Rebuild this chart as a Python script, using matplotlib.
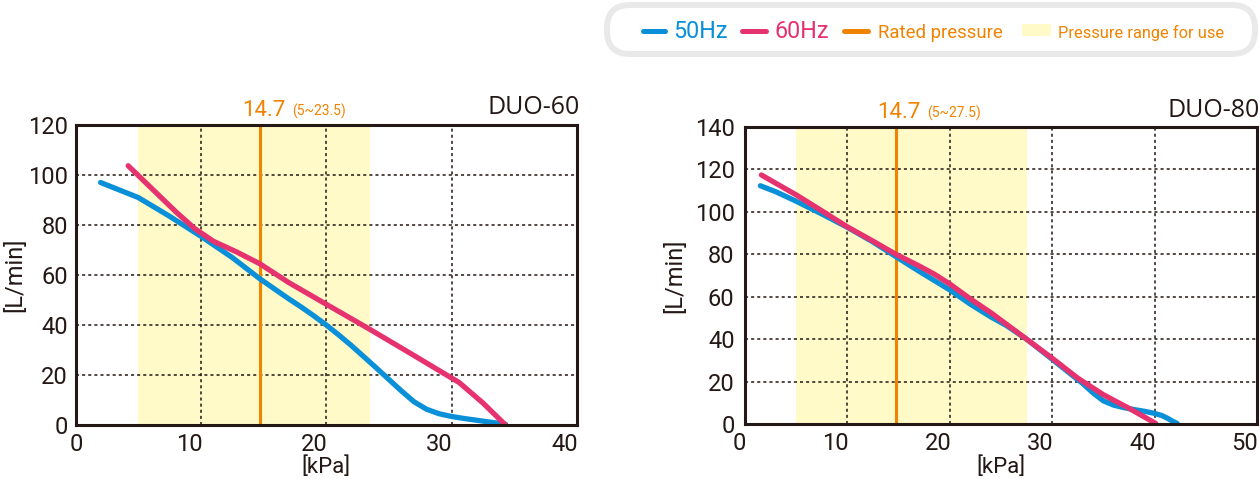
import numpy as np
import matplotlib
matplotlib.use("Agg")
import matplotlib.pyplot as plt
from matplotlib import font_manager
from matplotlib.patches import FancyBboxPatch, Rectangle
import matplotlib.transforms as mtransforms

# ---------------- data ----------------
# DUO-60
duo60_50hz_x = [2.0, 5.0, 7.5, 10.0, 12.5, 14.7, 17.0, 18.0, 19.0, 20.0, 21.0, 22.0, 23.0, 24.0, 25.0,
                26.0, 27.0, 28.0, 29.0, 30.0, 31.0, 32.0, 33.0, 34.3]
duo60_50hz_y = [97.0, 91.0, 83.5, 75.5, 67.0, 58.5, 50.5, 47.2, 43.7, 40.0, 36.0, 31.8, 27.3, 22.8, 18.2,
                13.6, 9.3, 6.3, 4.5, 3.4, 2.6, 1.9, 1.2, 0.3]
duo60_60hz_x = [4.2, 6.0, 8.0, 9.5, 11.0, 12.9, 14.7, 17.0, 20.0, 23.5, 27.0, 30.0, 30.6, 32.5, 34.3]
duo60_60hz_y = [103.7, 95.0, 85.3, 78.6, 73.5, 69.1, 64.5, 57.0, 48.3, 38.2, 27.8, 18.8, 17.0, 8.8, 0.0]
# DUO-80
duo80_50hz_x = [1.5, 3.0, 5.0, 7.5, 10.0, 12.5, 14.7, 17.0, 20.0, 22.0, 24.0, 25.5, 27.5, 30.0, 32.0,
                33.0, 34.0, 35.0, 36.0, 37.0, 38.0, 39.0, 40.0, 40.7, 41.3, 41.8, 42.2]
duo80_50hz_y = [112.3, 109.5, 105.0, 99.0, 92.7, 85.8, 79.0, 72.0, 63.2, 56.5, 50.5, 46.5, 40.0, 30.5, 22.8,
                19.0, 14.6, 10.9, 8.9, 7.7, 6.8, 6.0, 5.0, 4.0, 2.6, 1.2, 0.3]
duo80_60hz_x = [1.6, 3.0, 5.0, 7.5, 10.0, 12.5, 14.7, 17.0, 18.5, 20.0, 22.0, 24.0, 27.5, 30.0, 32.5,
                35.0, 37.5, 40.1]
duo80_60hz_y = [117.4, 113.5, 108.0, 100.5, 92.9, 86.2, 80.1, 74.5, 70.6, 66.0, 59.0, 52.5, 40.0, 31.0, 21.6,
                13.8, 7.4, 0.3]

models = ["DUO-60", "DUO-80"]
rated_pressure = [14.7, 14.7]
use_range = [(5.0, 23.5), (5.0, 27.5)]
range_notes = ["(5~23.5)", "(5~27.5)"]
x_max = [40, 50]
y_max = [120, 140]
x_step = 10
y_step = 20
legend_labels = ["50Hz", "60Hz", "Rated pressure", "Pressure range for use"]
x_label = "[kPa]"
y_label = "[L/min]"

# ---------------- style ----------------
BLUE = "#0a90d8"
PINK = "#e6336f"
ORANGE = "#f08300"
YELLOW = "#fffac7"
DARK = "#231815"

avail = {f.name for f in font_manager.fontManager.ttflist}
NARROW = next((f for f in ["Roboto", "Open Sans"] if f in avail), "DejaVu Sans")
WIDE = "Open Sans" if "Open Sans" in avail else "DejaVu Sans"
plt.rcParams["font.family"] = [NARROW, "DejaVu Sans"]

W, H = 1260, 479
fig = plt.figure(figsize=(W / 100, H / 100), dpi=100)


def px_rect(x0, y0, x1, y1):
    return [x0 / W, (H - y1) / H, (x1 - x0) / W, (y1 - y0) / H]


rects = [px_rect(75.5, 125, 577, 425), px_rect(745, 127, 1257, 424)]
series = [((duo60_50hz_x, duo60_50hz_y), (duo60_60hz_x, duo60_60hz_y)),
          ((duo80_50hz_x, duo80_50hz_y), (duo80_60hz_x, duo80_60hz_y))]
ylab_x = [-0.1206, -0.137]
xlab_y = [-0.103, -0.108]
zero_shift = [1, -6]
ypad = [5.5, 7.5]

for i in range(2):
    ax = fig.add_axes(rects[i])
    ax.set_xlim(0, x_max[i])
    ax.set_ylim(0, y_max[i])
    ax.axvspan(use_range[i][0], use_range[i][1], color=YELLOW, lw=0, zorder=0)
    xt = np.arange(0, x_max[i] + 1, x_step)
    yt = np.arange(0, y_max[i] + 1, y_step)
    ax.set_xticks(xt)
    ax.set_yticks(yt)
    for v in xt[1:-1]:
        ax.axvline(v, color=DARK, lw=1.1, ls=(0, (2, 2)), zorder=1)
    for v in yt[1:-1]:
        ax.axhline(v, color=DARK, lw=1.1, ls=(0, (2, 2)), zorder=1)
    ax.axvline(rated_pressure[i], color=ORANGE, lw=2.2, zorder=2)
    (bx, by), (qx, qy) = series[i]
    ax.plot(bx, by, color=BLUE, lw=3.8, solid_capstyle="round", solid_joinstyle="round", zorder=3)
    ax.plot(qx, qy, color=PINK, lw=3.8, solid_capstyle="round", solid_joinstyle="round", zorder=4)
    for s in ax.spines.values():
        s.set_color(DARK)
        s.set_linewidth(2.2)
        s.set_zorder(5)
    ax.tick_params(axis="both", length=0, labelsize=17, labelcolor=DARK)
    ax.tick_params(axis="x", pad=6)
    ax.tick_params(axis="y", pad=ypad[i])
    for tick, v in zip(ax.xaxis.get_major_ticks(), xt):
        dx = zero_shift[i] if v == 0 else -12
        tick.label1.set_transform(tick.label1.get_transform() +
                                  mtransforms.ScaledTranslation(dx / 100, 0, fig.dpi_scale_trans))
    ax.set_xlabel(x_label, fontsize=16, color=DARK)
    ax.xaxis.set_label_coords(0.5, xlab_y[i])
    ax.set_ylabel(y_label, fontsize=17, color=DARK, va="center")
    ax.yaxis.set_label_coords(ylab_x[i], 0.5)
    ax.text(1.005, 1.035, models[i], transform=ax.transAxes, ha="right", va="baseline",
            fontsize=18, color=DARK, family=[WIDE, "DejaVu Sans"])
    ax.annotate(f"{rated_pressure[i]}", xy=(rated_pressure[i], 1),
                xycoords=("data", "axes fraction"), xytext=(25.5, 9), textcoords="offset pixels",
                ha="right", va="baseline", fontsize=16, color=ORANGE, annotation_clip=False)
    ax.annotate(range_notes[i], xy=(rated_pressure[i], 1),
                xycoords=("data", "axes fraction"), xytext=(32, 9), textcoords="offset pixels",
                ha="left", va="baseline", fontsize=10, color=ORANGE, annotation_clip=False)

# ---------------- legend (pixel overlay) ----------------
ov = fig.add_axes([0, 0, 1, 1], zorder=10)
ov.set_xlim(0, W)
ov.set_ylim(H, 0)
ov.axis("off")
ov.patch.set_alpha(0)
ov.add_patch(FancyBboxPatch((607, 5), 648, 49, boxstyle="round,pad=0,rounding_size=23",
                            fc="white", ec="#e9e9e9", lw=4.3))
yl = 31
base = 38
for (x0, x1), c in zip([(643, 665), (742, 766), (844, 868)], [BLUE, PINK, ORANGE]):
    ov.plot([x0, x1], [yl, yl], color=c, lw=3.6, solid_capstyle="round")
ov.add_patch(Rectangle((1022, 24), 29, 12, fc=YELLOW, ec="none"))
ov.text(673, base, legend_labels[0], color=BLUE, fontsize=16.8, ha="left", va="baseline")
ov.text(774, base, legend_labels[1], color=PINK, fontsize=16.8, ha="left", va="baseline")
ov.text(878, base, legend_labels[2], color=ORANGE, fontsize=13.4, ha="left", va="baseline")
ov.text(1058, base, legend_labels[3], color=ORANGE, fontsize=11.8, ha="left", va="baseline")

fig.savefig("out.png", dpi=100)
